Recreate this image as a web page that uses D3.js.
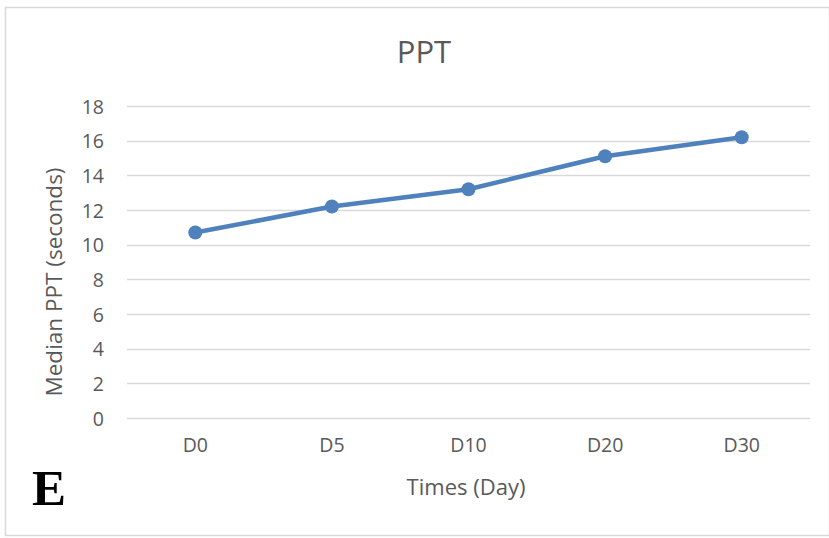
<!DOCTYPE html>
<html>
<head>
<meta charset="utf-8">
<script src="https://cdn.jsdelivr.net/npm/d3@7"></script>
<style>
  html, body { margin: 0; padding: 0; background: #fff; }
  svg text { font-family: "Open Sans", "Noto Sans", sans-serif; }
</style>
</head>
<body>
<svg id="chart" width="829" height="538"></svg>
<script>
// Median paw-pressure time per day of measurement
const days = ["D0", "D5", "D10", "D20", "D30"];
const medianPPT = [10.7, 12.2, 13.2, 15.1, 16.2];
const yTicks = [0, 2, 4, 6, 8, 10, 12, 14, 16, 18];

const svg = d3.select("#chart");
const W = 829, H = 538;
const plot = { left: 127, right: 810, top: 106, bottom: 418 };

// Outer chart frame
svg.append("rect")
  .attr("x", 5.5).attr("y", 7.5)
  .attr("width", W - 5).attr("height", 528)
  .attr("fill", "#fff").attr("stroke", "#d9d9d9").attr("stroke-width", 1.5);

const x = d3.scaleBand().domain(days).range([plot.left, plot.right]);
const y = d3.scaleLinear().domain([0, 18]).range([plot.bottom, plot.top]);

// Horizontal gridlines
svg.append("g")
  .selectAll("line")
  .data(yTicks)
  .join("line")
  .attr("x1", plot.left).attr("x2", plot.right)
  .attr("y1", d => Math.round(y(d)) + 0.5).attr("y2", d => Math.round(y(d)) + 0.5)
  .attr("stroke", "#d9d9d9").attr("stroke-width", 1.3);

// Y axis labels
const yAxis = d3.axisLeft(y).tickValues(yTicks).tickSize(0).tickPadding(0);
const yg = svg.append("g").attr("transform", `translate(${plot.left - 23},1)`).call(yAxis);
yg.select(".domain").remove();
yg.selectAll("text").attr("fill", "#595959").style("font-size", "19.5px");

// X axis labels
const xAxis = d3.axisBottom(x).tickSize(0).tickPadding(0);
const xg = svg.append("g").attr("transform", `translate(0,${plot.bottom + 20})`).call(xAxis);
xg.select(".domain").remove();
xg.selectAll("text").attr("fill", "#595959").style("font-size", "19.5px");

// Title and axis titles
svg.append("text")
  .attr("x", 424).attr("y", 63)
  .attr("text-anchor", "middle")
  .attr("fill", "#595959").style("font-size", "31px")
  .text("PPT");

svg.append("text")
  .attr("transform", `translate(62,282) rotate(-90)`)
  .attr("text-anchor", "middle")
  .attr("fill", "#595959").style("font-size", "22.5px")
  .text("Median PPT (seconds)");

svg.append("text")
  .attr("x", 466).attr("y", 495)
  .attr("text-anchor", "middle")
  .attr("fill", "#595959").style("font-size", "22px")
  .text("Times (Day)");

// Panel letter
svg.append("text")
  .attr("x", 32).attr("y", 505)
  .style("font-family", "'Liberation Serif', 'DejaVu Serif', serif")
  .style("font-weight", "bold").style("font-size", "51px")
  .attr("fill", "#000")
  .text("E");

// Series line and markers
const data = days.map((d, i) => ({ day: d, value: medianPPT[i] }));
const cx = d => x(d.day) + x.bandwidth() / 2;

svg.append("path")
  .datum(data)
  .attr("fill", "none")
  .attr("stroke", "#4f81bd").attr("stroke-width", 4.5)
  .attr("stroke-linejoin", "round")
  .attr("d", d3.line().x(cx).y(d => y(d.value)));

svg.append("g")
  .selectAll("circle")
  .data(data)
  .join("circle")
  .attr("cx", cx).attr("cy", d => y(d.value))
  .attr("r", 7)
  .attr("fill", "#4f81bd");
</script>
</body>
</html>
